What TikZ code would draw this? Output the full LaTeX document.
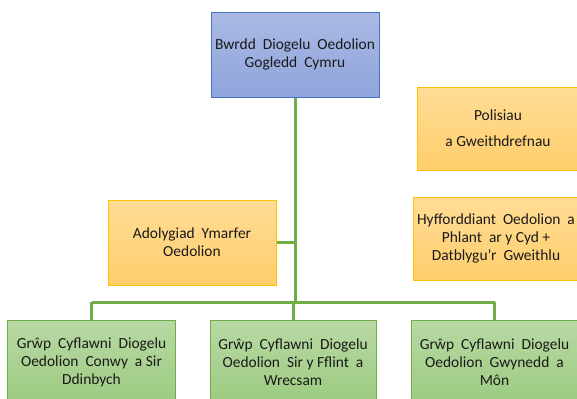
\documentclass[tikz,border=0pt]{standalone}
\usepackage{fontspec}
\setmainfont{Carlito}
\definecolor{linegreen}{HTML}{70AD47}
\definecolor{bluetop}{HTML}{ABBAE4}
\definecolor{bluebot}{HTML}{8EA4DB}
\definecolor{blueline}{HTML}{4472C4}
\definecolor{orgtop}{HTML}{FFDC96}
\definecolor{orgbot}{HTML}{FFCE6C}
\definecolor{orgline}{HTML}{FFC000}
\definecolor{grntop}{HTML}{B8D9A4}
\definecolor{grnbot}{HTML}{9CCB80}
\definecolor{txt}{HTML}{1A1A1A}
\tikzset{
  x=1bp, y=-1bp,
  box/.style={rectangle, inner sep=0pt, align=center, text=txt,
    font=\fontsize{15.5}{18}\selectfont, line width=1bp},
  bluebox/.style={box, draw=blueline, top color=bluetop, bottom color=bluebot},
  orgbox/.style={box, draw=orgline, top color=orgtop, bottom color=orgbot},
  grnbox/.style={box, draw=linegreen, top color=grntop, bottom color=grnbot},
  conn/.style={draw=linegreen, line width=3bp}
}
\begin{document}
\begin{tikzpicture}
\useasboundingbox (0,0) rectangle (577,398);
\clip (0,0) rectangle (577,398);
\fill[white] (0,0) rectangle (577,398);
\coordinate (bus) at (295,302);
\coordinate (busL) at (91.5,302);
\coordinate (busR) at (494.5,302);
\node[bluebox, minimum width=168bp, minimum height=85bp] (top) at (295,54.5)
  {Bwrdd\ \ Diogelu\ \ Oedolion\\Gogledd\ \ Cymru};
\node[orgbox, minimum width=168bp, minimum height=85bp] (adol) at (192,242.5)
  {Adolygiad\ \ Ymarfer\\Oedolion};
\node[orgbox, minimum width=162bp, minimum height=83bp] (pol) at (498,128.5)
  {Polisiau\\[8bp]a Gweithdrefnau};
\node[orgbox, minimum width=166bp, minimum height=83bp] (hyf) at (496,238.5)
  {Hyfforddiant\ \ Oedolion\ \ a\\Phlant\ \ ar y Cyd +\\Datblygu'r\ \ Gweithlu};
\node[grnbox, minimum width=167bp, minimum height=84bp] (g1) at (91.5,362)
  {Grŵp\ \ Cyflawni\ \ Diogelu\\Oedolion\ \ Conwy\ \ a Sir\\Ddinbych};
\node[grnbox, minimum width=166bp, minimum height=84bp] (g2) at (293,362)
  {Grŵp\ \ Cyflawni\ \ Diogelu\\Oedolion\ \ Sir y Fflint\ \ a\\Wrecsam};
\node[grnbox, minimum width=167bp, minimum height=84bp] (g3) at (494.5,362)
  {Grŵp\ \ Cyflawni\ \ Diogelu\\Oedolion\ \ Gwynedd\ \ a\\Môn};
\draw[conn] (top.south) -- (bus);
\draw[conn] (adol.east) -- (adol.east -| bus);
\draw[conn] (busL) -- (busR);
\draw[conn] (busL) -- (g1.north);
\draw[conn] (bus -| g2.north) -- (g2.north);
\draw[conn] (busR) -- (g3.north);
\end{tikzpicture}
\end{document}
